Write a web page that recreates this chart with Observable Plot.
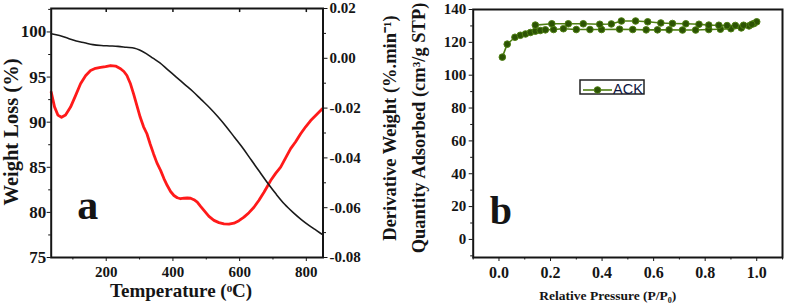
<!DOCTYPE html>
<html>
<head>
<meta charset="utf-8">
<script src="https://cdn.jsdelivr.net/npm/d3@7"></script>
<script src="https://cdn.jsdelivr.net/npm/@observablehq/plot@0.6"></script>
<style>
  html, body { margin: 0; padding: 0; background: #fff; }
  #wrap { position: relative; width: 787px; height: 308px; display: flex; overflow: hidden; }
  #wrap svg { display: block; }
  #legend { position: absolute; left: 579px; top: 79px; }
</style>
</head>
<body>
<div id="wrap">
  <div id="pa"></div>
  <div id="pb"></div>
  <svg id="legend" width="68" height="18"></svg>
</div>
<script>
// ---------- Panel (a): TGA / DTG ----------
const tgaTemp   = [35, 60, 85, 110, 135, 160, 185, 210, 235, 260, 285, 300, 320, 340, 360, 385, 410, 435, 460, 485, 510, 535, 560, 585, 610, 635, 660, 685, 710, 735, 760, 785, 810, 830, 850];
const tgaWeight = [99.8, 99.6, 99.3, 99.0, 98.8, 98.6, 98.5, 98.45, 98.4, 98.3, 98.2, 98.0, 97.6, 97.1, 96.6, 95.8, 95.0, 94.2, 93.4, 92.5, 91.6, 90.6, 89.5, 88.3, 87.1, 85.8, 84.5, 83.2, 82.0, 80.9, 80.0, 79.2, 78.5, 78.0, 77.5];

const dtgTemp  = [35, 45, 55, 66, 78, 93, 108, 123, 138, 153, 168, 183, 198, 213, 228, 243, 253, 262, 272, 282, 292, 302, 312, 322, 332, 342, 352, 363, 373, 383, 393, 403, 413, 423, 433, 443, 453, 463, 473, 483, 493, 508, 523, 538, 553, 568, 583, 598, 613, 628, 643, 658, 673, 683, 693, 708, 723, 738, 753, 768, 783, 798, 813, 828, 848];
const dtgDeriv = [-0.0136, -0.0195, -0.0228, -0.0237, -0.0228, -0.0196, -0.0150, -0.0102, -0.0070, -0.0049, -0.0040, -0.0036, -0.0033, -0.0029, -0.0031, -0.0042, -0.0053, -0.0069, -0.0100, -0.0143, -0.0190, -0.0237, -0.0275, -0.0303, -0.0345, -0.0384, -0.0420, -0.0450, -0.0483, -0.0511, -0.0535, -0.0551, -0.0560, -0.0564, -0.0562, -0.0561, -0.0562, -0.0568, -0.0578, -0.0595, -0.0611, -0.0635, -0.0651, -0.0660, -0.0665, -0.0666, -0.0662, -0.0652, -0.0638, -0.0620, -0.0598, -0.0570, -0.0538, -0.0515, -0.0491, -0.0462, -0.0437, -0.0400, -0.0363, -0.0335, -0.0303, -0.0275, -0.0250, -0.0230, -0.0203];

const weightTicks = [75, 80, 85, 90, 95, 100];
const weightMinor = [77.5, 82.5, 87.5, 92.5, 97.5, 102.5];
const derivTicks  = [0.02, 0.00, -0.02, -0.04, -0.06, -0.08];
const derivMinor  = [0.01, -0.01, -0.03, -0.05, -0.07];
const tempTicks   = [200, 400, 600, 800];
const tempMinor   = [100, 300, 500, 700];

// ---------- Panel (b): N2 isotherm ----------
const seriesName = "ACK";
const adsP = [0.013, 0.032, 0.062, 0.083, 0.103, 0.122, 0.141, 0.16, 0.18, 0.212, 0.25, 0.30, 0.353, 0.398, 0.468, 0.519, 0.571, 0.615, 0.66, 0.712, 0.763, 0.814, 0.859, 0.90, 0.94, 0.97, 0.99, 1.0];
const adsQ = [111, 118.9, 123.1, 124.3, 125.1, 126, 126.8, 127.2, 127.6, 127.8, 128.3, 127.8, 127.8, 127.8, 128, 127.8, 127.6, 127.6, 127.6, 127.5, 127.5, 127.8, 128, 128.3, 128.8, 130, 131.5, 132.5];
const desP = [0.981, 0.949, 0.917, 0.885, 0.853, 0.814, 0.776, 0.725, 0.673, 0.628, 0.577, 0.530, 0.475, 0.436, 0.391, 0.327, 0.269, 0.205, 0.141];
const desQ = [131, 130.4, 130.3, 130.2, 130.4, 130.5, 131, 131.3, 131.5, 131.8, 132.5, 133, 133, 131.2, 131, 131.3, 131.3, 131.3, 130.5];

const qTicks = [0, 20, 40, 60, 80, 100, 120, 140];
const qMinor = [-10, 10, 30, 50, 70, 90, 110, 130];
const pTicks = [0, 0.2, 0.4, 0.6, 0.8, 1.0];
const pMinor = [-0.1, 0.1, 0.3, 0.5, 0.7, 0.9, 1.1];

// ---------- build ----------
const serif = "'Liberation Serif','Times New Roman',serif";
const ink = "#151515";
const wDomain = [75, 102.6];
const dDomain = [-0.08, 0.02];
const toLeft = d3.scaleLinear().domain(dDomain).range(wDomain);

const tga = tgaTemp.map((t, i) => ({t, w: tgaWeight[i]}));
const dtg = dtgTemp.map((t, i) => ({t, w: toLeft(dtgDeriv[i])}));
const fmtDeriv = v => { const x = Math.round(toLeft.invert(v) * 100) / 100; return x.toFixed(2); };

const plotA = Plot.plot({
  width: 405, height: 308,
  marginLeft: 50.7, marginRight: 82.5, marginTop: 8, marginBottom: 51,
  x: {domain: [35, 850]},
  y: {domain: wDomain},
  style: {fontFamily: serif, fontWeight: "bold", color: ink, background: "transparent", overflow: "visible"},
  marks: [
    Plot.line(dtg, {x: "t", y: "w", stroke: "#ff1a1a", strokeWidth: 2.8}),
    Plot.line(tga, {x: "t", y: "w", stroke: "#1a1a1a", strokeWidth: 1.6, curve: "monotone-x"}),
    Plot.axisY({ticks: weightTicks, anchor: "left", tickSize: 4, tickPadding: 1, fontSize: 17, fontWeight: "bold", label: null}),
    Plot.axisY({ticks: weightMinor.filter(v => v < 102.6), anchor: "left", tickSize: 2.5, tickFormat: () => "", label: null}),
    Plot.axisY({ticks: derivTicks.map(toLeft), anchor: "right", tickSize: 4, tickPadding: 2.5, fontSize: 15, fontWeight: "bold", tickFormat: fmtDeriv, label: null}),
    Plot.axisY({ticks: derivMinor.map(toLeft), anchor: "right", tickSize: 2.5, tickFormat: () => "", label: null}),
    Plot.axisX({ticks: tempTicks, anchor: "bottom", tickSize: 4, tickPadding: 5, fontSize: 15, fontWeight: "bold", label: null}),
    Plot.axisX({ticks: tempMinor, anchor: "bottom", tickSize: 2.5, tickFormat: () => "", label: null}),
    Plot.ruleX(tempTicks, {y1: 102.6, y2: 102.15, stroke: ink, strokeWidth: 1.5}),
    Plot.frame({stroke: ink, strokeWidth: 2}),
    Plot.text(["Weight Loss (%)"], {text: d => d, frameAnchor: "left", dx: -39.5, dy: -1, rotate: -90, fontSize: 20.5, fontWeight: "bold", textAnchor: "middle", lineAnchor: "middle"}),
    Plot.text(["Derivative Weight (%.min\u207B\u00B9)"], {text: d => d, frameAnchor: "right", dx: 67.5, dy: -5, rotate: -90, fontSize: 18.5, fontWeight: "bold", textAnchor: "middle", lineAnchor: "middle"}),
    Plot.text(["Temperature (\u1D52C)"], {text: d => d, frameAnchor: "bottom", dx: -6, dy: 33, fontSize: 19, fontWeight: "bold", textAnchor: "middle", lineAnchor: "middle"}),
    Plot.text(["a"], {text: d => d, frameAnchor: "bottom-left", dx: 26, dy: -52, fontSize: 42, fontWeight: "bold", textAnchor: "start", lineAnchor: "middle"})
  ]
});
document.getElementById("pa").appendChild(plotA);

const iso = adsP.map((p, i) => ({p, q: adsQ[i]})).concat(desP.map((p, i) => ({p, q: desQ[i]})));
const green = "#4e7f12";
const greenDark = "#2c5304";

const plotB = Plot.plot({
  width: 382, height: 308,
  marginLeft: 67.7, marginRight: 5, marginTop: 9, marginBottom: 51,
  x: {domain: [-0.1, 1.1]},
  y: {domain: [-11, 140]},
  style: {fontFamily: serif, fontWeight: "bold", color: ink, background: "transparent", overflow: "visible"},
  marks: [
    Plot.line(iso, {x: "p", y: "q", stroke: green, strokeWidth: 1.6}),
    Plot.dot(iso, {x: "p", y: "q", r: 3.3, fill: greenDark, stroke: green, strokeWidth: 1}),
    Plot.axisY({ticks: qTicks, anchor: "left", tickSize: 4, tickPadding: 3, fontSize: 15, fontWeight: "bold", label: null}),
    Plot.axisY({ticks: qMinor, anchor: "left", tickSize: 2.5, tickFormat: () => "", label: null}),
    Plot.axisX({ticks: pTicks, anchor: "bottom", tickSize: 4, tickPadding: 5, fontSize: 16, fontWeight: "bold", tickFormat: d3.format(".1f"), label: null}),
    Plot.axisX({ticks: pMinor, anchor: "bottom", tickSize: 2.5, tickFormat: () => "", label: null}),
    Plot.frame({stroke: ink, strokeWidth: 2}),
    Plot.text(["Quantity Adsorbed (cm\u00B3/g STP)"], {text: d => d, frameAnchor: "left", dx: -54.5, dy: -5.5, rotate: -90, fontSize: 18.5, fontWeight: "bold", textAnchor: "middle", lineAnchor: "middle"}),
    Plot.text(["Relative Pressure (P/P\u2080)"], {text: d => d, frameAnchor: "bottom", dx: -20, dy: 38, fontSize: 13.5, fontWeight: "bold", textAnchor: "middle", lineAnchor: "middle"}),
    Plot.text(["b"], {text: d => d, frameAnchor: "bottom-left", dx: 16.5, dy: -46, fontSize: 40, fontWeight: "bold", textAnchor: "start", lineAnchor: "middle"})
  ]
});
document.getElementById("pb").appendChild(plotB);

// ---------- legend (inside panel b) ----------
const lg = d3.select("#legend");
lg.append("rect").attr("x", 1).attr("y", 1).attr("width", 64).attr("height", 14)
  .attr("fill", "#fff").attr("stroke", "#222").attr("stroke-width", 1.5);
lg.append("line").attr("x1", 4).attr("x2", 33).attr("y1", 11).attr("y2", 11)
  .attr("stroke", green).attr("stroke-width", 1.6);
lg.append("circle").attr("cx", 18.5).attr("cy", 11).attr("r", 3.3)
  .attr("fill", greenDark).attr("stroke", green);
lg.append("text").attr("x", 34).attr("y", 14.5).text(seriesName)
  .attr("font-family", "'Liberation Sans',Arial,sans-serif").attr("font-size", 14.5).attr("fill", "#0d1540");
</script>
</body>
</html>
